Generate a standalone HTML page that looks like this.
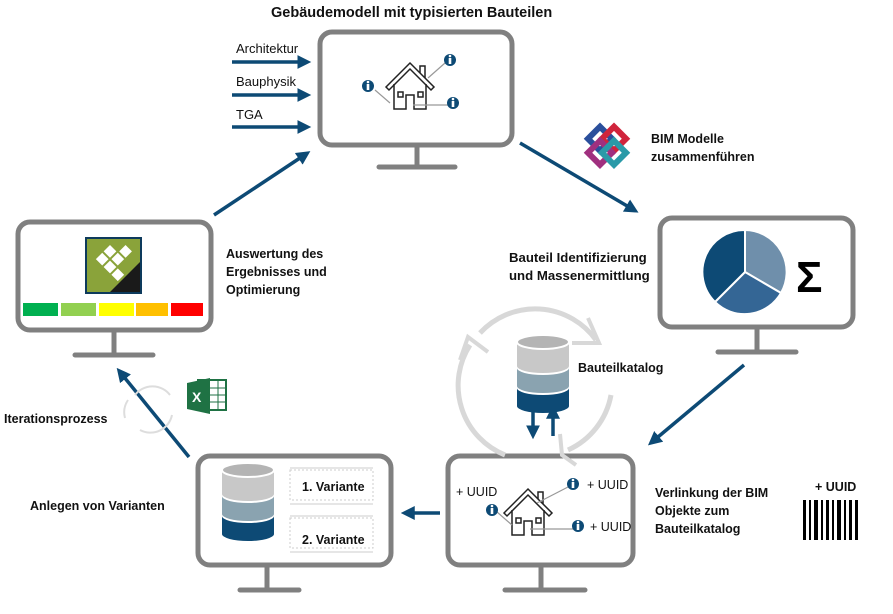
<!DOCTYPE html>
<html><head><meta charset="utf-8"><style>
body{margin:0;background:#fff}
svg text{font-family:"Liberation Sans",sans-serif;fill:#111}
.b{font-weight:bold;font-size:12.5px}
</style></head><body>
<svg width="893" height="609" viewBox="0 0 893 609" xmlns="http://www.w3.org/2000/svg">
<defs>
<marker id="ah" markerWidth="4" markerHeight="4" refX="2.5" refY="2" orient="auto" markerUnits="strokeWidth"><path d="M0,0 L4,2 L0,4 Z" fill="#0d4a75"/></marker>
<g id="house" fill="none" stroke="#222" stroke-width="1.5">
<path d="M-24,0 L0,-24 L24,0 L21,3 L0,-18 L-21,3 Z"/>
<path d="M-16,-3 V22 H-4 V8 H4 V22 H16 V-3"/>
<rect x="-12" y="5" width="5" height="5"/><rect x="8" y="5" width="5" height="5"/>
<path d="M10,-14 V-21 H15 V-9"/>
</g>
<g id="info"><circle r="6" fill="#0d4a75"/><rect x="-1.3" y="-2" width="2.6" height="6" fill="#fff"/><circle cy="-4" r="1.3" fill="#fff"/></g>
<g id="db">
<path d="M-26,-22 V0 A26,7 0 0 0 26,0 V-22 Z" fill="#c8c8c8"/>
<ellipse cy="-24" rx="26" ry="7" fill="#b4b4b4" stroke="#fff" stroke-width="2"/>
<path d="M-26,2 V20 A26,7 0 0 0 26,20 V2 A26,7 0 0 1 -26,2 Z" fill="#8aa3b0"/>
<path d="M-26,22 V40 A26,7 0 0 0 26,40 V22 A26,7 0 0 1 -26,22 Z" fill="#0d4a75"/>
</g>
</defs>

<g fill="#fff" stroke="#808080" stroke-width="5">
<rect x="320" y="32" width="192" height="113" rx="12"/>
<rect x="660" y="218" width="193" height="109" rx="12"/>
<rect x="448" y="456" width="185" height="109" rx="12"/>
<rect x="198" y="456" width="193" height="109" rx="12"/>
<rect x="18" y="222" width="193" height="108" rx="12"/>
</g>
<g stroke="#808080" stroke-width="5" stroke-linecap="round">
<path d="M417,146 V167 M379,167 H455"/>
<path d="M757,328 V352 M718,352 H796"/>
<path d="M541,566 V590 M505,590 H585"/>
<path d="M267,566 V590 M240,590 H299"/>
<path d="M114,331 V355 M75,355 H153"/>
</g>

<text x="271" y="17" class="b" style="font-size:14.5px">Gebäudemodell mit typisierten Bauteilen</text>
<g stroke="#0d4a75" stroke-width="3.5" marker-end="url(#ah)">
<line x1="232" y1="62" x2="306" y2="62"/>
<line x1="232" y1="95" x2="306" y2="95"/>
<line x1="232" y1="127" x2="306" y2="127"/>
<line x1="520" y1="143" x2="634" y2="210"/>
<line x1="744" y1="365" x2="652" y2="442"/>
<line x1="440" y1="513" x2="406" y2="513"/>
<line x1="189" y1="457" x2="120" y2="372"/>
<line x1="214" y1="215" x2="306" y2="154"/>
<line x1="533" y1="406" x2="533" y2="434"/>
<line x1="553" y1="436" x2="553" y2="410"/>
</g>
<text x="236" y="53" font-size="13">Architektur</text>
<text x="236" y="86" font-size="13">Bauphysik</text>
<text x="236" y="119" font-size="13">TGA</text>

<use href="#house" x="410" y="87"/>
<g stroke="#999" stroke-width="1.2"><line x1="375" y1="90" x2="390" y2="103"/><line x1="428" y1="78" x2="445" y2="63"/><line x1="413" y1="105" x2="450" y2="105"/></g>
<use href="#info" x="368" y="86"/><use href="#info" x="450" y="60"/><use href="#info" x="453" y="103"/>

<!-- BIM logo -->
<g fill="none" stroke-width="6">
<rect x="592" y="130" width="17" height="17" transform="rotate(45 600 138)" stroke="#2a4f9c"/>
<rect x="606" y="130" width="17" height="17" transform="rotate(45 614 138)" stroke="#d0243c"/>
<rect x="592" y="144" width="17" height="17" transform="rotate(45 600 152)" stroke="#a0307f"/>
<rect x="606" y="144" width="17" height="17" transform="rotate(45 614 152)" stroke="#2a9aa8"/>
</g>
<text x="651" y="143" class="b" font-size="13">BIM Modelle</text>
<text x="651" y="161" class="b" font-size="13">zusammenführen</text>

<!-- pie -->
<g stroke="#fff" stroke-width="2">
<path d="M745,272 V230 A42,42 0 0 1 781,293 Z" fill="#6f8fab"/>
<path d="M745,272 L781,293 A42,42 0 0 1 715,302 Z" fill="#346695"/>
<path d="M745,272 L715,302 A42,42 0 0 1 745,230 Z" fill="#0d4a75"/>
</g>
<text x="796" y="292" font-size="44" font-weight="bold" style="fill:#000">Σ</text>
<text x="509" y="262" class="b" style="font-size:13.2px">Bauteil Identifizierung</text>
<text x="509" y="280" class="b" style="font-size:13.2px">und Massenermittlung</text>

<!-- cycle around db -->
<g fill="none" stroke="#d8d8d8" stroke-width="5">
<path d="M480,333 A75,75 0 0 1 596,340"/>
<path d="M611,395 A75,75 0 0 1 568,450"/>
<path d="M505,455 A75,75 0 0 1 470,345"/>
</g>
<g fill="none" stroke="#d8d8d8" stroke-width="4"><path d="M588,318 L599,343 L572,343"/><path d="M460,360 L468,337 L488,352"/><path d="M560,434 L562,455 L576,465"/></g>
<use href="#db" x="543" y="366"/>
<text x="578" y="372" class="b">Bauteilkatalog</text>

<!-- bottom right monitor -->
<use href="#house" x="528" y="513"/>
<g stroke="#999" stroke-width="1.2"><line x1="497" y1="512" x2="512" y2="525"/><line x1="537" y1="503" x2="568" y2="487"/><line x1="530" y1="529" x2="573" y2="529"/></g>
<use href="#info" x="492" y="510"/><use href="#info" x="573" y="484"/><use href="#info" x="578" y="526"/>
<g font-size="12.5"><text x="456" y="496">+ UUID</text><text x="587" y="489">+ UUID</text><text x="590" y="531">+ UUID</text></g>
<text x="655" y="497" class="b">Verlinkung der BIM</text>
<text x="655" y="515" class="b">Objekte zum</text>
<text x="655" y="533" class="b">Bauteilkatalog</text>
<text x="815" y="491" class="b">+ UUID</text>
<g fill="#000">
<rect x="803" y="500" width="3" height="40"/><rect x="809" y="500" width="2" height="40"/><rect x="814" y="500" width="4" height="40"/><rect x="821" y="500" width="2" height="40"/><rect x="826" y="500" width="3" height="40"/><rect x="832" y="500" width="2" height="40"/><rect x="837" y="500" width="4" height="40"/><rect x="844" y="500" width="2" height="40"/><rect x="849" y="500" width="3" height="40"/><rect x="855" y="500" width="3" height="40"/>
</g>

<!-- bottom left monitor -->
<use href="#db" x="248" y="494"/>
<g fill="none" stroke="#ccc" stroke-width="1">
<rect x="290" y="470" width="83" height="30" stroke-dasharray="2 2"/>
<rect x="290" y="518" width="83" height="30" stroke-dasharray="2 2"/>
<line x1="290" y1="468" x2="373" y2="468"/><line x1="290" y1="504" x2="373" y2="504"/><line x1="290" y1="516" x2="373" y2="516"/><line x1="290" y1="552" x2="373" y2="552"/>
</g>
<text x="302" y="491" class="b" font-size="13">1. Variante</text>
<text x="302" y="544" class="b" font-size="13">2. Variante</text>
<text x="30" y="510" class="b">Anlegen von Varianten</text>

<!-- left monitor -->
<rect x="85" y="237" width="57" height="57" fill="#0d3a5c"/>
<rect x="87" y="239" width="53" height="53" fill="#8aa33a"/>
<path d="M140,262 V292 H110 Z" fill="#1a1a1a"/>
<g fill="#fff" transform="rotate(45 110 262)"><rect x="98" y="250" width="9" height="9"/><rect x="109" y="250" width="9" height="9"/><rect x="98" y="261" width="9" height="9"/><rect x="109" y="261" width="9" height="9"/><rect x="120" y="261" width="9" height="9"/><rect x="109" y="239" width="9" height="9"/></g>
<g><rect x="23" y="303" width="35" height="13" fill="#00b050"/><rect x="61" y="303" width="35" height="13" fill="#92d050"/><rect x="99" y="303" width="35" height="13" fill="#ffff00"/><rect x="136" y="303" width="32" height="13" fill="#ffc000"/><rect x="171" y="303" width="32" height="13" fill="#ff0000"/></g>
<text x="226" y="258" class="b">Auswertung des</text>
<text x="226" y="276" class="b">Ergebnisses und</text>
<text x="226" y="294" class="b">Optimierung</text>

<!-- excel + iteration -->
<g fill="none" stroke="#ddd" stroke-width="2"><path d="M135,395 A22,22 0 0 1 170,395"/><path d="M172,415 A22,22 0 0 1 140,430"/><path d="M125,418 A22,22 0 0 1 128,400"/></g>
<rect x="198" y="380" width="28" height="30" fill="#fff" stroke="#1f7244" stroke-width="2"/>
<g stroke="#1f7244" stroke-width="1"><line x1="210" y1="388" x2="226" y2="388"/><line x1="210" y1="395" x2="226" y2="395"/><line x1="210" y1="402" x2="226" y2="402"/><line x1="218" y1="380" x2="218" y2="410"/></g>
<path d="M187,383 L210,378 V414 L187,409 Z" fill="#1f7244"/>
<text x="192" y="402" font-size="14" font-weight="bold" style="fill:#fff">X</text>
<text x="4" y="423" class="b">Iterationsprozess</text>
</svg>
</body></html>
